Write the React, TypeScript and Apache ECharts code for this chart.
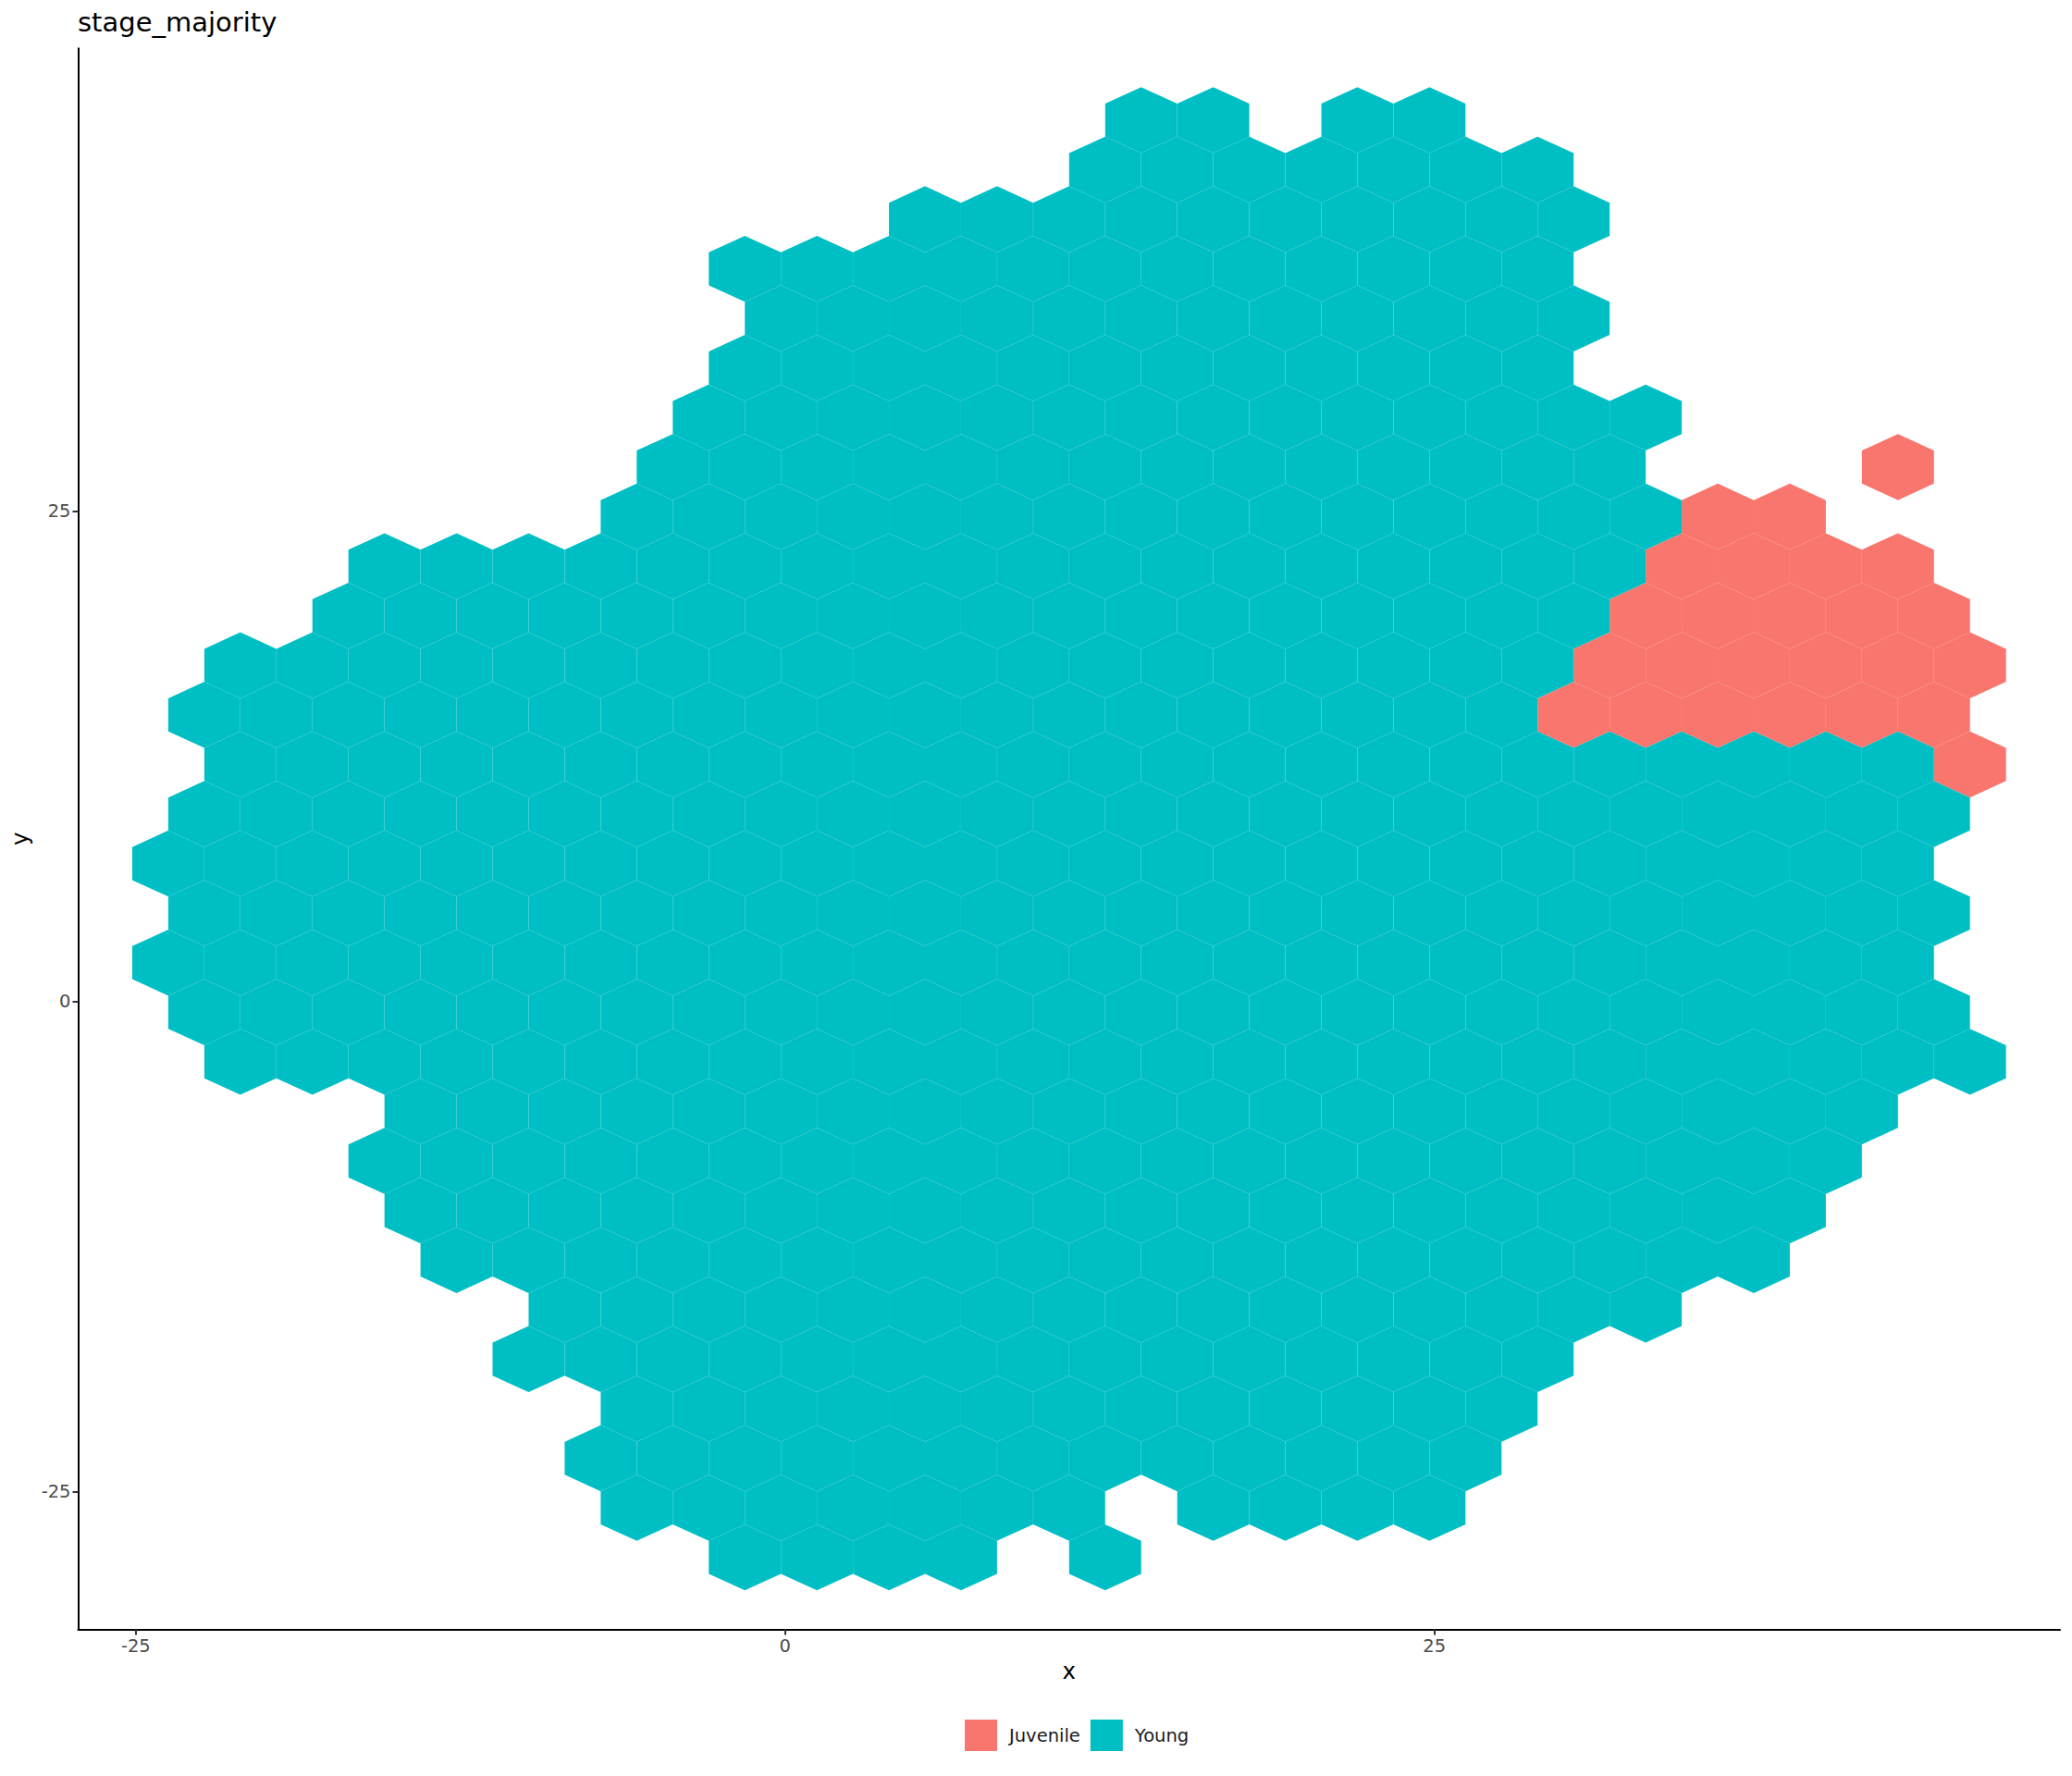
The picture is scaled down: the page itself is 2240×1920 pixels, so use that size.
import React, { useEffect, useRef } from "react";
import * as echarts from "echarts";

const TITLE = "stage_majority";
const STAGES = ["Juvenile", "Young"];
const STAGE_COLORS = ["#F8766D", "#00BFC4"];
const X_TICKS = [-25, 0, 25];
const Y_TICKS = [-25, 0, 25];
const X_NAME = "x";
const Y_NAME = "y";

// Hex grid (data units)
const HEX_WIDTH = 2.775; // distance between neighbouring hex centres in a row
const ROW_STEP = 2.527; // vertical distance between rows
const X_ORIGIN = -23.75; // centre x of half-column 0
const Y_TOP = 44.95; // centre y of row 0

// Axis limits (ggplot: 5% expansion of bin centres)
const X_MIN = -27.22;
const X_MAX = 49.09;
const Y_MIN = -32.0;
const Y_MAX = 48.61;

// Filled bins: [row, first half-column, last half-column] (half-columns step by 2)
const YOUNG_SPANS: number[][] = [
  [0, 27, 29], [0, 33, 35],
  [1, 26, 38],
  [2, 21, 39],
  [3, 16, 38],
  [4, 17, 39],
  [5, 16, 38],
  [6, 15, 41],
  [7, 14, 40],
  [8, 13, 41],
  [9, 6, 40],
  [10, 5, 39],
  [11, 2, 38],
  [12, 1, 37],
  [13, 2, 48],
  [14, 1, 49],
  [15, 0, 48],
  [16, 1, 49],
  [17, 0, 48],
  [18, 1, 49],
  [19, 2, 50],
  [20, 7, 47],
  [21, 6, 46],
  [22, 7, 45],
  [23, 8, 44],
  [24, 11, 41],
  [25, 10, 38],
  [26, 13, 37],
  [27, 12, 36],
  [28, 13, 25], [28, 29, 35],
  [29, 16, 22], [29, 26, 26],
];

const JUVENILE_SPANS: number[][] = [
  [7, 48, 48],
  [8, 43, 45],
  [9, 42, 48],
  [10, 41, 49],
  [11, 40, 50],
  [12, 39, 49],
  [13, 50, 50],
];

function binsFromSpans(spans: number[][]): number[][] {
  const out: number[][] = [];
  for (const [row, k0, k1] of spans) {
    for (let k = k0; k <= k1; k += 2) {
      out.push([X_ORIGIN + (k * HEX_WIDTH) / 2, Y_TOP - row * ROW_STEP]);
    }
  }
  return out;
}

const HALF_W = HEX_WIDTH / 2;
const RADIUS = (ROW_STEP * 2) / 3;
const HEX_OFFSETS = [
  [0, RADIUS],
  [HALF_W, RADIUS / 2],
  [HALF_W, -RADIUS / 2],
  [0, -RADIUS],
  [-HALF_W, -RADIUS / 2],
  [-HALF_W, RADIUS / 2],
];

const FONT = "DejaVu Sans";

function hexSeries(name: string, color: string, data: number[][]) {
  return {
    type: "custom",
    name,
    coordinateSystem: "cartesian2d",
    itemStyle: { color },
    encode: { x: 0, y: 1 },
    data,
    renderItem: (params: any, api: any) => {
      const x = api.value(0);
      const y = api.value(1);
      const pts = HEX_OFFSETS.map(([ox, oy]) => api.coord([x + ox, y + oy]));
      return {
        type: "polygon",
        shape: { points: pts },
        style: { fill: color },
      };
    },
  };
}

export default function App() {
  const ref = useRef<HTMLDivElement>(null);
  useEffect(() => {
    document.body.style.margin = "0";
    if (!ref.current) return;
    const chart = echarts.init(ref.current, null, { renderer: "svg" });
    const spans = [JUVENILE_SPANS, YOUNG_SPANS];
    chart.setOption({
      animation: false,
      backgroundColor: "#ffffff",
      title: {
        text: TITLE,
        left: 84,
        top: 9,
        padding: 0,
        textStyle: { fontFamily: FONT, fontSize: 29, fontWeight: "normal", color: "#000000" },
      },
      legend: {
        data: STAGES.map((s) => ({ name: s, icon: "rect" })),
        left: 1043,
        top: 1859,
        padding: 0,
        orient: "horizontal",
        itemWidth: 35,
        itemHeight: 34,
        itemGap: 11,
        textStyle: { fontFamily: FONT, fontSize: 19.5, color: "#1a1a1a", padding: [0, 0, 0, 8] },
      },
      grid: { left: 84.5, right: 13, top: 52.3, bottom: 158.6, containLabel: false },
      xAxis: {
        type: "value",
        min: X_MIN,
        max: X_MAX,
        name: X_NAME,
        nameLocation: "middle",
        nameGap: 33,
        nameTextStyle: { fontFamily: FONT, fontSize: 24.4, color: "#000000" },
        axisLine: { show: true, onZero: false, lineStyle: { color: "#000000", width: 2 } },
        axisTick: { show: true, length: 6, customValues: X_TICKS, lineStyle: { color: "#333333", width: 2 } },
        axisLabel: { customValues: X_TICKS, margin: 8, fontFamily: FONT, fontSize: 19.5, color: "#4D4D4D" },
        splitLine: { show: false },
      },
      yAxis: {
        type: "value",
        min: Y_MIN,
        max: Y_MAX,
        name: Y_NAME,
        nameLocation: "middle",
        nameGap: 46,
        nameTextStyle: { fontFamily: FONT, fontSize: 24.4, color: "#000000" },
        axisLine: { show: true, onZero: false, lineStyle: { color: "#000000", width: 2 } },
        axisTick: { show: true, length: 6, customValues: Y_TICKS, lineStyle: { color: "#333333", width: 2 } },
        axisLabel: { customValues: Y_TICKS, margin: 8, fontFamily: FONT, fontSize: 19.5, color: "#4D4D4D" },
        splitLine: { show: false },
      },
      series: STAGES.map((s, i) => hexSeries(s, STAGE_COLORS[i], binsFromSpans(spans[i]))),
    });
    return () => chart.dispose();
  }, []);
  return <div ref={ref} style={{ width: 2240, height: 1920 }} />;
}
